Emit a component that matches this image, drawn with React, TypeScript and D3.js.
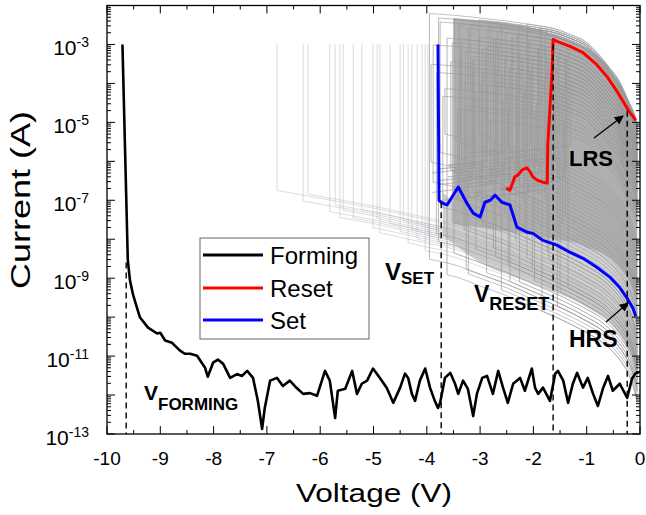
import React, { useEffect, useRef } from "react";
import * as d3 from "d3";

const W = 646;
const H = 515;

// ---------- axis labels ----------
const xTickLabels = ["-10", "-9", "-8", "-7", "-6", "-5", "-4", "-3", "-2", "-1", "0"];
const xTickValues = [-10, -9, -8, -7, -6, -5, -4, -3, -2, -1, 0];
const yLabelExponents = [-3, -5, -7, -9, -11, -13];

// ---------- Forming curve (V, log10 I) ----------
const formingV = [-9.71, -9.61, -9.57, -9.51, -9.44, -9.38, -9.23, -9.06, -9.0, -8.91, -8.78, -8.63, -8.54, -8.44, -8.31, -8.16, -8.11, -8.01, -7.92, -7.82, -7.69, -7.56, -7.47, -7.37, -7.26, -7.17, -7.09, -7.04, -6.94, -6.81, -6.7, -6.57, -6.44, -6.32, -6.19, -6.06, -5.91, -5.82, -5.72, -5.67, -5.53, -5.4, -5.31, -5.22, -5.12, -5.01, -4.88, -4.75,
  -4.63, -4.5, -4.41, -4.35, -4.28, -4.22, -4.13, -4.03, -3.94, -3.85, -3.79, -3.75, -3.66, -3.56, -3.47, -3.41, -3.32, -3.23, -3.13, -3.06, -2.96, -2.87, -2.76, -2.66, -2.57, -2.48, -2.38, -2.25, -2.16, -2.03, -1.97, -1.91, -1.82, -1.69, -1.59, -1.54, -1.44, -1.35, -1.26, -1.18, -1.07, -0.98, -0.88, -0.79, -0.69, -0.6, -0.51, -0.38, -0.24, -0.15, -0.09, 0.0];
const formingLogI = [-3.0, -8.53, -9.05, -9.43, -9.75, -10.01, -10.27, -10.42, -10.4, -10.6, -10.66, -10.86, -10.94, -10.94, -10.99, -11.3, -11.53, -11.17, -11.09, -11.2, -11.56, -11.46, -11.51, -11.38, -11.56, -12.15, -12.87, -12.33, -11.63, -11.56, -11.77, -11.63, -11.82, -11.97, -11.95, -12.02, -11.38, -11.63, -12.59, -11.89, -11.84, -11.38, -11.97, -11.71, -11.63, -11.32, -11.56, -11.82,
  -12.2, -11.81, -11.45, -11.56, -11.97, -12.15, -11.63, -11.32, -11.81, -12.15, -12.33, -12.2, -11.56, -11.43, -11.71, -11.97, -11.63, -11.84, -12.54, -11.97, -11.56, -11.51, -11.97, -11.38, -11.81, -12.2, -11.71, -11.56, -11.89, -11.32, -11.81, -11.97, -11.81, -12.15, -11.45, -11.38, -11.63, -12.2, -11.71, -11.43, -11.81, -11.56, -11.97, -12.28, -11.81, -11.51, -11.89, -11.71, -12.07, -11.58, -11.45, -11.4];

// ---------- Reset curve (red) ----------
const resetV = [-2.51, -2.44, -2.35, -2.29, -2.21, -2.12, -2.06, -2.01, -1.93, -1.84, -1.74, -1.73, -1.65, -1.63, -1.56, -1.31, -1.07, -0.81, -0.62, -0.43, -0.28, -0.19, -0.13, -0.08];
const resetLogI = [-6.69, -6.74, -6.4, -6.35, -6.22, -6.17, -6.27, -6.4, -6.48, -6.53, -6.56, -5.58, -3.7, -2.87, -2.92, -3.05, -3.21, -3.52, -3.82, -4.21, -4.55, -4.75, -4.85, -4.95];

// ---------- Set curve (blue) ----------
const setV = [-3.79, -3.77, -3.71, -3.62, -3.41, -3.25, -3.13, -3.0, -2.91, -2.81, -2.72, -2.59, -2.44, -2.31, -2.12, -2.01, -1.82, -1.56, -1.31, -1.07, -0.81, -0.56, -0.38, -0.24, -0.13, -0.08];
const setLogI = [-3.0, -7.0, -7.07, -7.12, -6.66, -7.07, -7.33, -7.43, -7.05, -7.0, -6.87, -7.05, -7.12, -7.69, -7.82, -7.85, -8.03, -8.15, -8.34, -8.49, -8.72, -8.98, -9.24, -9.52, -9.78, -9.98];

// ---------- Gray cycles: branch shapes ----------
const hrsShapeV = [-7, -6, -5, -4, -3.5, -3, -2.5, -2, -1.5, -1, -0.7, -0.5, -0.3, -0.2, -0.1, -0.05];
const hrsShapeLogI = [-6.1, -6.35, -6.6, -6.9, -7.05, -7.3, -7.55, -7.85, -8.15, -8.5, -8.75, -9.0, -9.35, -9.6, -10.0, -10.3];
const lrsShapeV = [-4, -3.5, -3, -2.5, -2, -1.6, -1.3, -1.0, -0.8, -0.6, -0.4, -0.28, -0.2, -0.13, -0.08, -0.05];
const lrsShapeLogI = [-2.5, -2.55, -2.62, -2.7, -2.8, -2.9, -3.05, -3.25, -3.52, -3.85, -4.21, -4.55, -4.8, -5.0, -5.2, -5.4];

// faint early set cycles
const faintSetV = [-6.81, -6.32, -6.23, -5.82, -5.72, -5.63, -5.57, -5.38, -5.22, -5.01, -4.93, -4.88, -4.69, -4.5, -4.44, -4.35, -4.28, -4.18, -4.09, -4.03, -3.98];
const faintHrsShift = [-0.6, -0.75, -0.55, -0.9, -0.7, -1.0, -0.8, -0.95, -0.7, -1.1, -0.85, -1.2, -0.9, -1.05, -0.75, -1.3, -0.95, -1.15, -0.8, -1.4, -1.0];

// dense set cycles
const cycleSetV = [-3.95, -3.88, -3.82, -3.75, -3.7, -3.62, -3.55, -3.49, -3.42, -3.36, -3.3, -3.22, -3.15, -3.08, -3.02, -2.95, -2.88, -2.81, -2.75, -2.68, -2.6, -2.54, -2.47, -2.4, -2.33, -2.26, -2.19, -2.12, -2.05, -1.98, -1.91, -1.84, -1.78, -1.71, -1.66, -1.55, -1.45, -1.35,
  -3.92, -3.78, -3.66, -3.52, -3.39, -3.26, -3.12, -2.98, -2.85, -2.71, -2.57, -2.44, -2.3, -2.16, -2.02, -1.88, -1.74, -1.62, -1.5, -1.4];
const cycleHrsShift = [-1.6, 0.4, -0.9, 1.2, -0.2, -1.9, 0.8, -1.3, 0.1, 1.6, -0.6, -1.7, 0.5, -1.0, 2.0, -0.3, -1.5, 0.9, -0.8, 1.4, -1.8, 0.2, -1.1, 1.8, -0.4, -1.4, 0.7, -0.7, 2.2, -1.2, 0.3, -1.9, 1.0, -0.5, 1.5, -1.6, 0.6, -1.0,
  0.9, -1.1, 1.7, -0.5, 0.3, -1.6, 1.1, -0.2, 1.9, -1.0, 0.6, -1.5, 1.3, 0.0, -0.9, 1.7, -0.3, 2.1, -1.2, 0.8];
const cycleLrsShift = [0.3, -0.5, -1.2, 0.1, -1.8, -0.3, -0.9, 0.2, -2.1, -0.6, -1.4, 0.0, -0.8, -1.6, 0.25, -1.1, -0.4, -2.3, -0.2, -1.3, 0.15, -0.7, -1.9, -0.1, -1.0, -0.5, -1.5, 0.3, -0.9, -2.0, -0.3, -1.2, 0.1, -0.6, -1.7, -0.4, -1.1, 0.0,
  -1.0, 0.2, -1.6, -0.4, 0.1, -2.0, -0.7, -1.3, 0.2, -0.2, -1.7, -0.9, 0.0, -1.4, -0.5, 0.25, -2.2, -0.8, -1.1, -0.3];

// reset cycles
const cycleResetV = [-1.3, -1.38, -1.45, -1.52, -1.58, -1.62, -1.68, -1.74, -1.8, -1.85, -1.91, -1.97, -2.03, -2.08, -2.15, -2.21, -2.27, -2.33, -2.4, -2.46, -2.52, -2.59, -2.65, -2.72, -2.8, -2.87, -2.95, -3.02, -3.1, -3.18, -3.27, -3.35,
  -1.42, -1.6, -1.77, -1.94, -2.11, -2.29, -2.49, -2.68, -2.9, -3.14];
const cycleResetShift = [-0.9, -0.4, -1.3, -0.2, -0.7, 0.1, -1.6, -0.5, -1.0, 0.2, -0.3, -1.9, -0.8, -0.1, -1.2, -0.6, 0.25, -1.5, -0.4, -0.9, 0.0, -1.1, -0.3, -0.7, 0.15, -1.4, -0.5, -0.2, -1.0, 0.1, -0.6, -0.3,
  -2.1, -1.2, -0.2, -1.7, 0.2, -0.8, -1.4, 0.0, -0.6, -1.1];
const cycleResetDrop = [-5.6, -6.2, -5.9, -6.5, -6.0, -6.7, -5.8, -6.3, -6.1, -6.6, -5.7, -6.4, -6.0, -6.8, -6.2, -5.9, -6.5, -6.3, -6.0, -6.7, -6.1, -5.8, -6.4, -6.2, -6.6, -6.0, -6.3, -6.9, -6.1, -6.5, -6.2, -6.7,
  -6.4, -5.9, -6.6, -6.1, -6.8, -6.3, -5.7, -6.5, -6.0, -6.4];
const cycleResetTailV = [-2.0, -2.2, -2.1, -2.3, -2.4, -2.3, -2.5, -2.5, -2.6, -2.5, -2.7, -2.8, -2.7, -2.9, -2.9, -3.0, -3.0, -3.1, -3.2, -3.1, -3.3, -3.3, -3.4, -3.5, -3.5, -3.6, -3.6, -3.7, -3.8, -3.8, -3.9, -3.9,
  -2.2, -2.4, -2.6, -2.8, -2.9, -3.1, -3.3, -3.4, -3.6, -3.8];

// cloud envelopes (dense core and lighter halo)
const coreV = [-3.5, -3.0, -2.5, -2.0, -1.6, -1.2, -0.9, -0.6, -0.4, -0.25, -0.12, -0.05];
const coreTopLogI = [-2.32, -2.38, -2.45, -2.58, -2.75, -2.95, -3.18, -3.55, -4.0, -4.35, -4.75, -5.05];
const coreBottomLogI = [-7.6, -7.7, -7.8, -7.9, -8.0, -8.1, -8.25, -8.45, -8.7, -8.95, -9.3, -9.6];
const haloV = [-3.7, -3.0, -2.0, -1.0, -0.5, -0.25, -0.1, -0.04];
const haloBottomLogI = [-7.9, -8.6, -9.15, -9.75, -10.25, -10.75, -11.25, -11.8];
const haloTopLogI = [-6.8, -7.5, -7.8, -8.1, -8.5, -8.9, -9.3, -9.7];

// dashed marker voltages
const markerV = [-9.64, -3.73, -1.63, -0.24];
const markerTopLogI = [-8.6, -7.05, -3.0, -4.7];

const FONT = "Liberation Sans, Arial, Helvetica, sans-serif";

export default function App() {
  const ref = useRef<SVGSVGElement>(null);

  useEffect(() => {
    const svg = d3.select(ref.current);
    svg.selectAll("*").remove();

    const x = d3.scaleLinear().domain([-10, 0]).range([107, 640]);
    const y = d3.scaleLog().domain([1e-13, 1e-2]).range([434, 5.5]);
    const yl = (l: number) => y(Math.pow(10, l));
    const x0 = 107, x1 = 640, y0 = 5.5, y1 = 434;

    svg.append("rect").attr("width", W).attr("height", H).attr("fill", "#fff");

    const defs = svg.append("defs");
    defs.append("clipPath").attr("id", "plotclip").append("rect")
      .attr("x", x0).attr("y", y0).attr("width", x1 - x0).attr("height", y1 - y0);
    defs.append("marker").attr("id", "arr").attr("viewBox", "0 0 10 10")
      .attr("refX", 9).attr("refY", 5).attr("markerWidth", 7).attr("markerHeight", 7)
      .attr("orient", "auto").append("path").attr("d", "M0,0 L10,5 L0,10 z").attr("fill", "#000");

    const plot = svg.append("g").attr("clip-path", "url(#plotclip)");

    const hrsShape = d3.scaleLinear().domain(hrsShapeV).range(hrsShapeLogI);
    const lrsShape = d3.scaleLinear().domain(lrsShapeV).range(lrsShapeLogI);
    const curve = d3.line<[number, number]>().x(d => x(d[0])).y(d => yl(d[1])).curve(d3.curveMonotoneX);
    const straight = d3.line<[number, number]>().x(d => x(d[0])).y(d => yl(d[1]));
    const band = d3.area<[number, number, number]>().x(d => x(d[0])).y0(d => yl(d[1])).y1(d => yl(d[2])).curve(d3.curveMonotoneX);

    // envelope fills
    plot.append("path").attr("d", band(haloV.map((v, i) => [v, haloBottomLogI[i], haloTopLogI[i]] as [number, number, number])))
      .attr("fill", "#d0d0d0");
    plot.append("path").attr("d", band(coreV.map((v, i) => [v, coreBottomLogI[i], coreTopLogI[i]] as [number, number, number])))
      .attr("fill", "#afafaf");

    const branch = (knots: number[], shape: (v: number) => number, vEnd: number, shift: number): [number, number][] => {
      const pts: [number, number][] = [[vEnd, shape(vEnd) + shift]];
      knots.forEach(v => { if (v > vEnd + 0.02) pts.push([v, shape(v) + shift]); });
      return pts;
    };

    const gray = plot.append("g").attr("fill", "none");

    // faint early set cycles
    faintSetV.forEach((vs, i) => {
      const hrs = branch(hrsShapeV, hrsShape, vs, faintHrsShift[i]);
      gray.append("path").attr("d", curve(hrs)).attr("stroke", "#b4b4bc").attr("stroke-width", 0.9).attr("opacity", 0.5);
      gray.append("path").attr("d", straight([[vs, hrs[0][1]], [vs, -3.0]])).attr("stroke", "#b4b4bc").attr("stroke-width", 0.9).attr("opacity", 0.55);
    });

    const gCol = "#999999";
    // dense set cycles
    cycleSetV.forEach((vs, i) => {
      const hrs = branch(hrsShapeV, hrsShape, vs, cycleHrsShift[i]);
      const lrs = branch(lrsShapeV, lrsShape, vs, cycleLrsShift[i]);
      gray.append("path").attr("d", curve(hrs)).attr("stroke", gCol).attr("stroke-width", 1).attr("opacity", 0.6);
      gray.append("path").attr("d", straight([[vs, hrs[0][1]], [vs, lrs[0][1]]])).attr("stroke", gCol).attr("stroke-width", 1.1).attr("opacity", 0.65);
      gray.append("path").attr("d", curve(lrs)).attr("stroke", gCol).attr("stroke-width", 1).attr("opacity", 0.6);
    });

    // reset cycles
    cycleResetV.forEach((vr, i) => {
      const lrs = branch(lrsShapeV, lrsShape, vr, cycleResetShift[i]);
      const drop = cycleResetDrop[i];
      gray.append("path").attr("d", curve(lrs)).attr("stroke", gCol).attr("stroke-width", 1).attr("opacity", 0.6);
      gray.append("path").attr("d", straight([[vr, lrs[0][1]], [vr, drop], [cycleResetTailV[i], drop - 0.1]]))
        .attr("stroke", gCol).attr("stroke-width", 1.1).attr("opacity", 0.65);
    });

    // dashed markers
    markerV.forEach((v, i) => {
      svg.append("line").attr("x1", x(v)).attr("x2", x(v)).attr("y1", yl(markerTopLogI[i])).attr("y2", y1)
        .attr("stroke", "#000").attr("stroke-width", 1.4).attr("stroke-dasharray", "6,4");
    });

    // main curves
    const pairs = (vs: number[], ls: number[]) => vs.map((v, i) => [v, ls[i]] as [number, number]);
    plot.append("path").attr("d", straight(pairs(formingV, formingLogI))).attr("fill", "none")
      .attr("stroke", "#000").attr("stroke-width", 2.6).attr("stroke-linejoin", "round");
    plot.append("path").attr("d", straight(pairs(resetV, resetLogI))).attr("fill", "none")
      .attr("stroke", "#ff0000").attr("stroke-width", 3).attr("stroke-linejoin", "round");
    plot.append("path").attr("d", straight(pairs(setV, setLogI))).attr("fill", "none")
      .attr("stroke", "#0000ff").attr("stroke-width", 3).attr("stroke-linejoin", "round");

    // frame
    svg.append("rect").attr("x", x0).attr("y", y0).attr("width", x1 - x0).attr("height", y1 - y0)
      .attr("fill", "none").attr("stroke", "#000").attr("stroke-width", 1.3);

    const ticks = svg.append("g").attr("stroke", "#000").attr("stroke-width", 1);
    d3.range(-10, 0.001, 0.5).forEach(v => {
      const major = Math.abs(v - Math.round(v)) < 1e-6;
      const len = major ? 8 : 4;
      ticks.append("line").attr("x1", x(v)).attr("x2", x(v)).attr("y1", y1).attr("y2", y1 - len);
      ticks.append("line").attr("x1", x(v)).attr("x2", x(v)).attr("y1", y0).attr("y2", y0 + len);
    });
    for (let e = -13; e <= -2; e++) {
      const yy = yl(e);
      [[x0, 1], [x1, -1]].forEach(([xs, dir]) => {
        ticks.append("line").attr("x1", xs).attr("x2", xs + dir * 8).attr("y1", yy).attr("y2", yy);
      });
      if (e < -2) {
        for (let m = 2; m <= 9; m++) {
          const ym = y(m * Math.pow(10, e));
          [[x0, 1], [x1, -1]].forEach(([xs, dir]) => {
            ticks.append("line").attr("x1", xs).attr("x2", xs + dir * 4).attr("y1", ym).attr("y2", ym);
          });
        }
      }
    }

    xTickValues.forEach((v, i) => {
      svg.append("text").attr("x", x(v)).attr("y", 465).attr("text-anchor", "middle")
        .attr("font-family", FONT).attr("font-size", 19).text(xTickLabels[i]);
    });
    yLabelExponents.forEach(e => {
      const t = svg.append("text").attr("x", 89).attr("y", yl(e) + 10.5).attr("text-anchor", "end")
        .attr("font-family", FONT).attr("font-size", 21);
      t.append("tspan").text("10");
      t.append("tspan").attr("dy", -8).attr("font-size", 14).text(String(e));
    });

    svg.append("text").attr("x", 374).attr("y", 502).attr("text-anchor", "middle")
      .attr("font-family", FONT).attr("font-size", 26).attr("textLength", 156).attr("lengthAdjust", "spacingAndGlyphs")
      .text("Voltage (V)");
    svg.append("text").attr("transform", "translate(30,200) rotate(-90)").attr("text-anchor", "middle")
      .attr("font-family", FONT).attr("font-size", 27).attr("textLength", 178).attr("lengthAdjust", "spacingAndGlyphs")
      .text("Current (A)");

    const lg = svg.append("g");
    lg.append("rect").attr("x", 200).attr("y", 238).attr("width", 169).attr("height", 101)
      .attr("fill", "#fff").attr("stroke", "#666").attr("stroke-width", 1);
    const legendItems: [string, string, number][] = [["Forming", "#000", 255], ["Reset", "#ff0000", 288], ["Set", "#0000ff", 320]];
    legendItems.forEach(([name, col, yy]) => {
      lg.append("line").attr("x1", 203).attr("x2", 263).attr("y1", yy).attr("y2", yy)
        .attr("stroke", col).attr("stroke-width", 3);
      lg.append("text").attr("x", 270).attr("y", yy + 8.5).attr("font-family", FONT).attr("font-size", 24).text(name);
    });

    const sub = (xx: number, yy: number, main: string, s: string, fs: number, sfs: number, sdy: number) => {
      const t = svg.append("text").attr("x", xx).attr("y", yy).attr("font-family", FONT).attr("font-weight", "bold").attr("font-size", fs);
      t.append("tspan").text(main);
      t.append("tspan").attr("dy", sdy).attr("font-size", sfs).text(s);
    };
    sub(385, 280, "V", "SET", 24, 17, 4);
    sub(474, 302, "V", "RESET", 23, 18, 8);
    sub(144, 400, "V", "FORMING", 21, 17, 10);
    svg.append("text").attr("x", 569).attr("y", 347).attr("font-family", FONT).attr("font-weight", "bold").attr("font-size", 23).text("HRS");
    svg.append("text").attr("x", 569).attr("y", 166).attr("font-family", FONT).attr("font-weight", "bold").attr("font-size", 22).text("LRS");

    svg.append("line").attr("x1", 594).attr("y1", 138).attr("x2", 623).attr("y2", 116)
      .attr("stroke", "#000").attr("stroke-width", 1.3).attr("marker-end", "url(#arr)");
    svg.append("line").attr("x1", 606).attr("y1", 322).attr("x2", 628).attr("y2", 303)
      .attr("stroke", "#000").attr("stroke-width", 1.3).attr("marker-end", "url(#arr)");
  }, []);

  return <svg ref={ref} width={W} height={H} style={{ position: "absolute", left: 0, top: 0 }} />;
}
